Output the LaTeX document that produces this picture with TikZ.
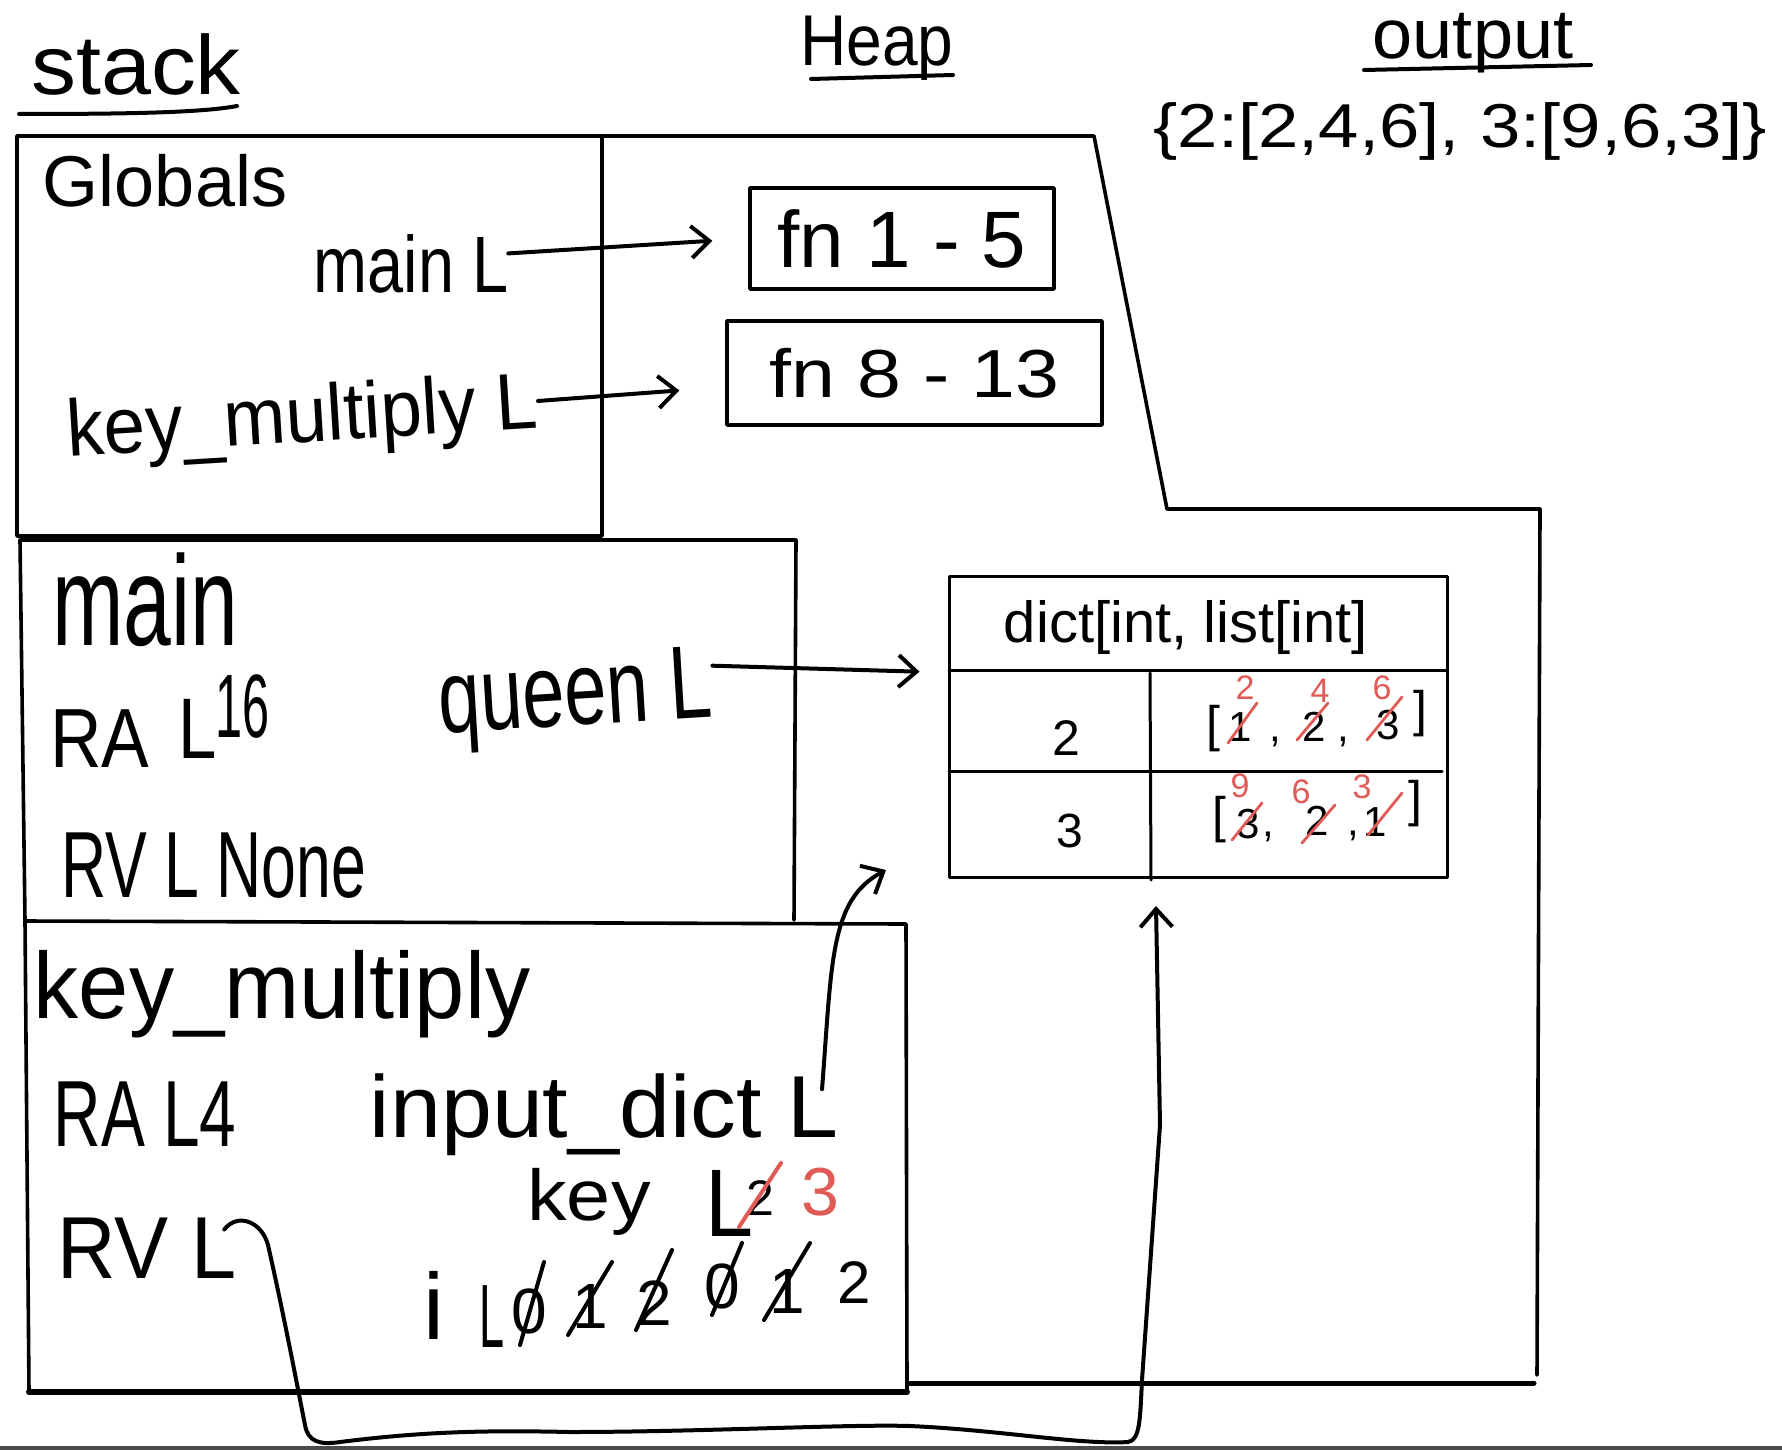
\documentclass[tikz,border=0pt]{standalone}
\usepackage{fontspec}
\setmainfont{Liberation Sans}
\usepackage{graphicx}
\usetikzlibrary{arrows.meta}
\definecolor{redink}{RGB}{224,90,86}
\definecolor{barg}{RGB}{75,75,75}
\newcommand\hwt[3]{\scalebox{#2}[1]{\fontsize{#1}{#1}\selectfont #3}}
\begin{document}
\begin{tikzpicture}[x=0.5pt,y=-0.5pt, line cap=round, line join=round,
  hw/.style={inner sep=0pt, outer sep=0pt, anchor=base},
  frame/.style={line width=1.8pt},
  arr/.style={line width=2pt, -{Straight Barb[length=9pt,width=16pt]}},
  rstrike/.style={line width=1.4pt, redink},
  bstrike/.style={line width=2pt},
  redtxt/.style={hw, text=redink},
]
\useasboundingbox (0,0) rectangle (1782,1450);
\fill[white] (0,0) rectangle (1782,1450);
\fill[barg] (0,1446) rectangle (1782,1450);

% titles
\node[hw] (tStack) at (136,95) {\hwt{42}{1.07}{stack}};
\draw[line width=2pt] (19,114) .. controls (120,114) and (200,113) .. (237,106);
\node[hw] (tHeap) at (877,66) {\hwt{36}{0.89}{Heap}};
\draw[line width=2pt] (811,79) -- (953,75);
\node[hw] (tOut) at (1473,59) {\hwt{35}{1.03}{output}};
\draw[line width=2pt] (1364,70) -- (1591,65);
\node[hw] (outVal) at (1460,148) {\hwt{31}{1.17}{\{2:[2,4,6], 3:[9,6,3]\}}};

% frames
\draw[frame] (17,136) rectangle (602,536);
\draw[frame] (602,136) -- (1094,136) -- (1167,509) -- (1540,509) -- (1537,1375);
\draw[line width=2.5pt] (909,1383) -- (1534,1383);
\draw[frame] (25,920) -- (20,540) -- (796,540) -- (794,920);
\draw[frame] (25,921) -- (906,924) -- (907,1391);
\draw[frame] (25,921) -- (29,1391);
\draw[line width=3pt] (29,1392) -- (907,1392);

% globals
\node[hw] (gTitle) at (165,206) {\hwt{36}{1.0}{Globals}};
\node[hw] (gMain) at (411,292) {\hwt{40}{0.81}{main L}};
\node[hw, rotate=3.5] (gKey) at (304,442) {\hwt{40}{0.93}{key\_multiply L}};

% heap function boxes
\node[draw, frame, minimum width=152pt, minimum height=50.5pt, inner sep=0pt] (fnA) at (902,238.5) {\hwt{40}{1.0}{fn 1 - 5}};
\node[draw, frame, minimum width=187.5pt, minimum height=52pt, inner sep=0pt] (fnB) at (914.5,373) {\hwt{34}{1.16}{fn 8 - 13}};

\draw[arr, shorten >=18pt] ([yshift=5pt]gMain.east) -- (fnA.west);
\draw[arr, shorten >=23pt] ([yshift=3pt]gKey.east) -- ([yshift=-7pt]fnB.west);

% main frame
\node[hw] (mTitle) at (145,645) {\hwt{64}{0.67}{main}};
\node[hw] (mRA) at (100,767) {\hwt{42}{0.85}{RA}};
\node[hw] (mRAL) at (198,758) {\hwt{43}{0.8}{L}};
\node[hw] (mRAv) at (243,737) {\hwt{45}{0.54}{16}};
\node[hw, rotate=3.5] (mQueen) at (577,725) {\hwt{52}{0.73}{queen L}};
\node[hw] (mRV) at (214,897) {\hwt{47}{0.665}{RV L None}};

% dict table
\node[draw, line width=1.5pt, minimum width=249pt, minimum height=150.5pt, inner sep=0pt] (dict) at (1198,726.5) {};
\draw[line width=1.5pt] (949,670) -- (1447,670);
\draw[line width=1.5pt] (949,771) -- (1442,771);
\draw[line width=1.5pt] (1150,673) -- (1151,880);
\node[hw] (dHead) at (1186,642) {\hwt{29}{1.0}{dict[int, list[int]}};
\node[hw] (k2) at (1066,755) {\hwt{25}{1.0}{2}};
\node[hw] (k3) at (1070,847) {\hwt{24}{1.0}{3}};
% row 1 value
\node[hw] (r1a) at (1213,741) {\hwt{25}{1.0}{[}};
\node[hw] (r1b) at (1240,741) {\hwt{21}{1.0}{1}};
\node[hw] (r1c) at (1275,741) {\hwt{21}{1.0}{,}};
\node[hw] (r1d) at (1314,741) {\hwt{21}{1.0}{2}};
\node[hw] (r1e) at (1343,741) {\hwt{21}{1.0}{,}};
\node[hw] (r1f) at (1388,739) {\hwt{21}{1.0}{3}};
\node[hw] (r1g) at (1420,726) {\hwt{25}{1.0}{]}};
\node[redtxt] (r1x) at (1245,699) {\hwt{17}{1.0}{2}};
\node[redtxt] (r1y) at (1320,702) {\hwt{17}{1.0}{4}};
\node[redtxt] (r1z) at (1382,699) {\hwt{17}{1.0}{6}};
\draw[rstrike] (1228,743) -- (1257,703);
\draw[rstrike] (1297,740) -- (1328,703);
\draw[rstrike] (1367,740) -- (1402,697);
% row 2 value
\node[hw] (r2a) at (1219,832) {\hwt{25}{1.0}{[}};
\node[hw] (r2b) at (1248,838) {\hwt{21}{1.0}{3}};
\node[hw] (r2c) at (1268,836) {\hwt{21}{1.0}{,}};
\node[hw] (r2d) at (1317,835) {\hwt{21}{1.0}{2}};
\node[hw] (r2e) at (1353,835) {\hwt{21}{1.0}{,}};
\node[hw] (r2f) at (1375,836) {\hwt{21}{1.0}{1}};
\node[hw] (r2g) at (1415,816) {\hwt{25}{1.0}{]}};
\node[redtxt] (r2x) at (1240,797) {\hwt{17}{1.0}{9}};
\node[redtxt] (r2y) at (1301,803) {\hwt{17}{1.0}{6}};
\node[redtxt] (r2z) at (1362,798) {\hwt{17}{1.0}{3}};
\draw[rstrike] (1232,840) -- (1262,803);
\draw[rstrike] (1302,843) -- (1335,805);
\draw[rstrike] (1368,835) -- (1402,793);

\draw[arr, shorten >=14pt] ([yshift=13pt]mQueen.east) -- ([yshift=27pt]dict.west);

% key_multiply frame
\node[hw] (kTitle) at (282,1018) {\hwt{47}{0.96}{key\_multiply}};
\node[hw] (kRA) at (145,1146) {\hwt{47}{0.70}{RA L4}};
\node[hw] (kDict) at (604,1137) {\hwt{44}{1.04}{input\_dict L}};
\node[hw] (kKey) at (589,1220) {\hwt{36}{1.1}{key}};
\node[hw] (kKeyL) at (730,1236) {\hwt{48}{0.9}{L}};
\node[hw] (kKeyOld) at (760,1215) {\hwt{25}{1.0}{2}};
\draw[rstrike, line width=2pt] (739,1227) -- (781,1163);
\node[redtxt] (kKeyNew) at (820,1215) {\hwt{34}{1.0}{3}};
\node[hw] (kI) at (434,1339) {\hwt{47}{1.0}{i}};
\node[hw] (kIL) at (492,1347) {\hwt{45}{0.5}{L}};
\node[hw] (i0a) at (529,1333) {\hwt{32}{1.0}{0}};
\node[hw] (i1a) at (590,1328) {\hwt{32}{1.0}{1}};
\node[hw] (i2a) at (654,1325) {\hwt{32}{1.0}{2}};
\node[hw] (i0b) at (722,1308) {\hwt{32}{1.0}{0}};
\node[hw] (i1b) at (787,1313) {\hwt{32}{1.0}{1}};
\node[hw] (i2b) at (854,1303) {\hwt{30}{1.0}{2}};
\draw[bstrike] (520,1345) -- (544,1262);
\draw[bstrike] (568,1335) -- (612,1262);
\draw[bstrike] (636,1330) -- (672,1250);
\draw[bstrike] (712,1315) -- (742,1243);
\draw[bstrike] (764,1320) -- (810,1243);
\node[hw] (kRV) at (147,1278) {\hwt{44}{0.92}{RV L}};

% pointers from key_multiply frame
\coordinate (idTip) at (886,870);
\draw[arr] ([xshift=-8pt,yshift=-8pt]kDict.north east) .. controls (832,960) and (830,900) .. (idTip);
\coordinate (rvTip) at (1156,906);
\draw[arr] ([xshift=-6pt,yshift=-6pt]kRV.north east)
  .. controls (238,1212) and (262,1222) .. (268,1245)
  .. controls (285,1320) and (300,1400) .. (305,1425)
  .. controls (308,1442) and (320,1445) .. (340,1442)
  .. controls (420,1432) and (480,1430) .. (570,1432)
  .. controls (700,1432) and (850,1424) .. (910,1426)
  .. controls (1000,1430) and (1080,1445) .. (1128,1442)
  .. controls (1140,1440) and (1140,1420) .. (1142,1380)
  -- (1160,1125) -- (rvTip);
\end{tikzpicture}
\end{document}
